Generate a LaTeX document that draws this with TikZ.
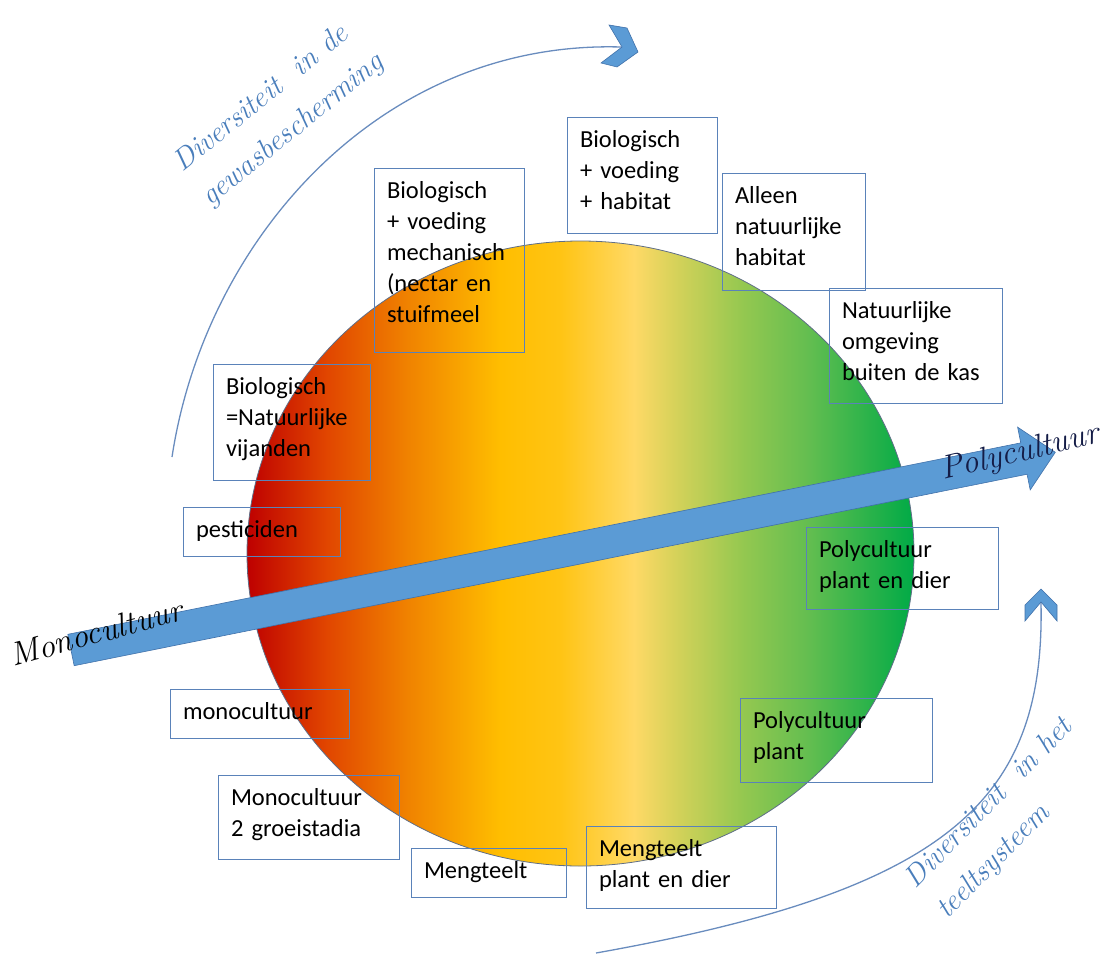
\documentclass[tikz,border=0pt]{standalone}
\usepackage{fontspec}
\newfontfamily\boxfont{Carlito}
\definecolor{boxline}{RGB}{90,130,185}
\definecolor{arrowfill}{RGB}{91,155,213}
\definecolor{arrowline}{RGB}{65,113,170}
\definecolor{scriptblue}{RGB}{74,126,187}
\definecolor{curveblue}{RGB}{105,140,190}
\definecolor{ballline}{RGB}{95,110,135}
\definecolor{navy}{RGB}{20,28,70}
\definecolor{g1}{RGB}{190,0,0}
\definecolor{g2}{RGB}{225,70,0}
\definecolor{g3}{RGB}{240,130,0}
\definecolor{g4}{RGB}{255,190,0}
\definecolor{g5}{RGB}{255,196,20}
\definecolor{g6}{RGB}{255,217,102}
\definecolor{g7}{RGB}{215,210,90}
\definecolor{g8}{RGB}{150,200,80}
\definecolor{g9}{RGB}{100,190,80}
\definecolor{g10}{RGB}{0,170,70}
\pgfdeclarehorizontalshading{ballshade}{100bp}{color(0bp)=(g1); color(25bp)=(g1);
  color(31bp)=(g2); color(37bp)=(g3); color(44bp)=(g4); color(48.5bp)=(g5);
  color(54bp)=(g6); color(57bp)=(g7); color(62bp)=(g8); color(67bp)=(g9);
  color(75bp)=(g10); color(100bp)=(g10)}

\begin{document}
\begin{tikzpicture}
    [x=1pt, y=-1pt,
    tbox/.style={draw=boxline, line width=0.9pt, anchor=north west, align=left,
        inner xsep=13pt, inner ysep=0pt, outer sep=0pt, text height=30pt,
        font=\boxfont\fontsize{24.5}{31}\selectfont},
    scripttext/.style={anchor=base west, inner sep=0pt,
        font=\itshape\fontsize{33}{40}\selectfont},
    bluescript/.style={anchor=base west, inner sep=0pt, align=left, text=scriptblue,
        font=\itshape\fontsize{29.5}{44}\selectfont},
    curveline/.style={curveblue, line width=1.3pt},
    chevron/.style={fill=arrowfill, draw=arrowline, line width=0.6pt}]

    \path[use as bounding box] (0,0) rectangle (1107,953);

    % the ball
    \shade[shading=ballshade, draw=ballline, line width=0.8pt]
        (580.5,553.5) ellipse [x radius=333.5, y radius=312.5];

    % the main arrow
    \begin{scope}[shift={(71,650)}, rotate=11.36]
        \draw[chevron] (0,-16) -- (972,-16) -- (972,-32) -- (1004,0)
            -- (972,32) -- (972,16) -- (0,16) -- cycle;
    \end{scope}

    % the two bent arrows
    \coordinate (gewasstart) at (172,457);
    \coordinate (gewasend) at (621,47);
    \coordinate (teeltstart) at (596,953);
    \coordinate (teeltend) at (1041,603);
    \draw[curveline] (gewasstart) .. controls (205,240) and (380,40) .. (gewasend);
    \draw[curveline] (teeltstart) .. controls (950,890) and (1045,800) .. (teeltend);
    \draw[chevron] (609,25) -- (627,28) -- (638,52) -- (617,67) -- (601,63) -- (622,47) -- cycle;
    \draw[chevron] (1041,589) -- (1057,605) -- (1057,621) -- (1041,602) -- (1025,621) -- (1025,605) -- cycle;

    % boxes
    \node[tbox, text width=124pt, text depth=154pt] (biomech) at (374,168)
        {Biologisch\\+ voeding\\mechanisch\\(nectar en\\stuifmeel};
    \node[tbox, text width=124pt, text depth=86pt] (biohab) at (567,117)
        {Biologisch\\+ voeding\\+ habitat};
    \node[tbox, text width=117pt, text depth=87pt] (alleen) at (722,173)
        {Alleen\\natuurlijke\\habitat};
    \node[tbox, text width=147pt, text depth=85pt] (omgeving) at (829,288)
        {Natuurlijke\\omgeving\\buiten de kas};
    \node[tbox, text width=131pt, text depth=86pt] (biovij) at (213,364)
        {Biologisch\\=Natuurlijke\\vijanden};
    \node[tbox, text width=131pt, text depth=19pt] (pest) at (183,507) {pesticiden};
    \node[tbox, text width=166pt, text depth=52pt] (polydier) at (806,527)
        {Polycultuur\\plant en dier};
    \node[tbox, text width=153pt, text depth=19pt] (mono) at (170,689) {monocultuur};
    \node[tbox, text width=166pt, text depth=54pt] (polyplant) at (740,698)
        {Polycultuur\\plant};
    \node[tbox, text width=155pt, text depth=54pt] (monogroei) at (218,775)
        {Monocultuur\\2 groeistadia};
    \node[tbox, text width=129pt, text depth=19pt] (meng) at (411,848) {Mengteelt};
    \node[tbox, text width=164pt, text depth=52pt] (mengdier) at (586,826)
        {Mengteelt\\plant en dier};

    % script labels
    \node[scripttext, rotate=15.5] (monotext) at (13,667) {Monocultuur};
    \node[scripttext, rotate=13.4, text=navy] (polytext) at (943,480) {Polycultuur};
    \node[bluescript, rotate=39] (gewastext) at (210,207)
        {Diversiteit\ \ in de\\gewasbescherming};
    \node[bluescript, rotate=45.5] (teelttext) at (947,920)
        {Diversiteit\ \ in het\\teeltsysteem};

\end{tikzpicture}
\end{document}
